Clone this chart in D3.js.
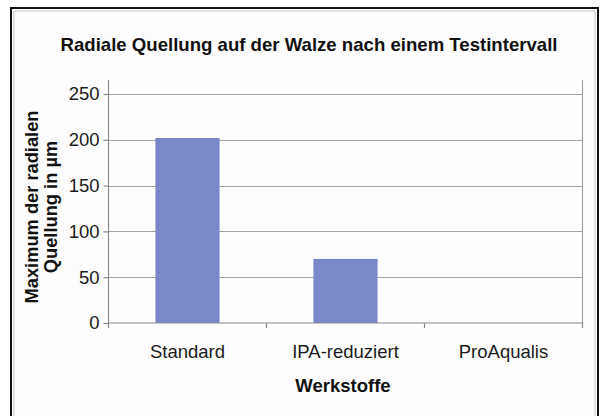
<!DOCTYPE html>
<html>
<head>
<meta charset="utf-8">
<script src="https://cdn.jsdelivr.net/npm/d3@7"></script>
<style>
  html, body { margin: 0; padding: 0; background: #fff; }
  svg { display: block; }
  text { font-family: "Liberation Sans", Arial, sans-serif; }
</style>
</head>
<body>
<svg id="chart" width="603" height="416"></svg>
<script>
const categories = ["Standard", "IPA-reduziert", "ProAqualis"];
const values = [202, 70, 0];
const yTicks = [0, 50, 100, 150, 200, 250];
const title = "Radiale Quellung auf der Walze nach einem Testintervall";
const yLabelLines = ["Maximum der radialen", "Quellung in µm"];
const xLabel = "Werkstoffe";

const svg = d3.select("#chart");

// frame
svg.append("rect").attr("x", 11).attr("y", 8).attr("width", 587).attr("height", 430)
  .attr("fill", "#fdfdfd").attr("stroke", "#111").attr("stroke-width", 2);
svg.append("rect").attr("x", 14).attr("y", 11).attr("width", 581).attr("height", 430)
  .attr("fill", "none").attr("stroke", "#c8c8c8").attr("stroke-width", 1);

const pLeft = 108.5, pRight = 582.5, pTop = 80, pBottom = 323;
const x = d3.scaleBand().domain(categories).range([pLeft, pRight]).paddingInner(0.594).paddingOuter(0.297);
const y = d3.scaleLinear().domain([0, 250]).range([pBottom, 94]);

// gridlines
svg.append("g").selectAll("line").data(yTicks.filter(d => d > 0)).join("line")
  .attr("x1", pLeft).attr("x2", pRight)
  .attr("y1", d => Math.round(y(d)) + 0.5).attr("y2", d => Math.round(y(d)) + 0.5)
  .attr("stroke", "#a3a3a3").attr("stroke-width", 1.2);

// bars
svg.append("g").selectAll("rect").data(categories).join("rect")
  .attr("x", d => x(d)).attr("width", x.bandwidth())
  .attr("y", (d, i) => y(values[i])).attr("height", (d, i) => pBottom - y(values[i]))
  .attr("fill", "#7a87c8");

// right border line
svg.append("line").attr("x1", pRight).attr("x2", pRight).attr("y1", pTop).attr("y2", pBottom)
  .attr("stroke", "#a3a3a3").attr("stroke-width", 1.2);

// y axis
const yAxis = d3.axisLeft(y).tickValues(yTicks).tickSize(5).tickPadding(4);
const gy = svg.append("g").attr("transform", `translate(${pLeft},0)`).call(yAxis);
gy.select(".domain").remove();
gy.append("line").attr("x1", 0).attr("x2", 0).attr("y1", pTop).attr("y2", pBottom).attr("stroke", "#8a8a8a").attr("stroke-width", 1.2);
gy.selectAll(".tick line").attr("stroke", "#8a8a8a").attr("stroke-width", 1.2);
gy.selectAll(".tick text").attr("font-size", 18.5).attr("fill", "#1a1a1a")
  .attr("font-family", "'Liberation Sans', Arial, sans-serif");

// x axis
const gx = svg.append("g").attr("transform", `translate(0,${pBottom})`);
gx.append("line").attr("x1", pLeft).attr("x2", pRight).attr("y1", 0).attr("y2", 0)
  .attr("stroke", "#8a8a8a").attr("stroke-width", 1.2);
const boundaries = [pLeft].concat(categories.map(c => x(c) + x.bandwidth() / 2 + x.step() / 2));
gx.selectAll("line.tk").data(boundaries).join("line").attr("class", "tk")
  .attr("x1", d => d).attr("x2", d => d).attr("y1", 0).attr("y2", 5)
  .attr("stroke", "#8a8a8a").attr("stroke-width", 1.2);
gx.selectAll("text").data(categories).join("text")
  .attr("x", d => x(d) + x.bandwidth() / 2).attr("y", 35)
  .attr("text-anchor", "middle").attr("font-size", 18.5).attr("fill", "#1a1a1a")
  .text(d => d);

// title
svg.append("text").attr("x", 309).attr("y", 51).attr("text-anchor", "middle")
  .attr("font-size", 18.6).attr("font-weight", "bold").attr("fill", "#111").text(title);

// x label
svg.append("text").attr("x", 343).attr("y", 392).attr("text-anchor", "middle")
  .attr("font-size", 18.5).attr("font-weight", "bold").attr("fill", "#111").text(xLabel);

// y label
const yl = svg.append("text").attr("transform", "translate(38,207) rotate(-90)")
  .attr("text-anchor", "middle").attr("font-size", 18.3).attr("font-weight", "bold").attr("fill", "#111");
yLabelLines.forEach((l, i) => {
  yl.append("tspan").attr("x", 0).attr("dy", i === 0 ? 0 : 19).text(l);
});
</script>
</body>
</html>
